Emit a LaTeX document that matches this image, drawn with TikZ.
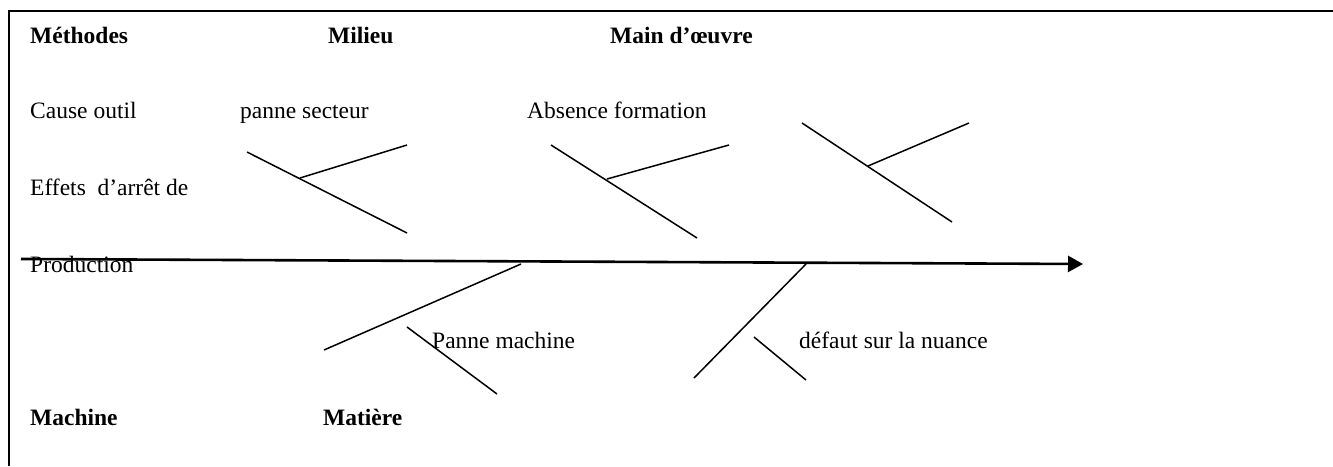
\documentclass[tikz,border=0pt]{standalone}
\usepackage{fontspec}
\setmainfont{Liberation Serif}
\usetikzlibrary{arrows.meta}
\begin{document}
\begin{tikzpicture}[x=1pt,y=-1pt,
  lbl/.style={anchor=base west,inner sep=0pt,font=\fontsize{23.5}{28}\selectfont},
  cat/.style={lbl,font=\fontsize{23.5}{28}\selectfont\bfseries},
  bone/.style={line width=1.5pt,black},
  spine/.style={line width=2.6pt,black,-{Triangle[length=15pt,width=16pt]}},
  frame/.style={line width=2pt,black}]
\useasboundingbox (0,0) rectangle (1333,466);
\draw[frame] (9,466) -- (9,10.5) -- (1333,10.5);
% category labels
\node[cat] (methodes) at (30,43) {Méthodes};
\node[cat] (milieu) at (328,43) {Milieu};
\node[cat] (main) at (610,43) {Main d’œuvre};
\node[cat] (machine) at (30,425) {Machine};
\node[cat] (matiere) at (323,425) {Matière};
% cause labels
\node[lbl] (outil) at (30,118) {Cause outil};
\node[lbl] (secteur) at (240,118) {panne secteur};
\node[lbl] (formation) at (527,118) {Absence formation};
\node[lbl] (effets) at (30,195) {Effets\ \ d’arrêt de};
\node[lbl] (production) at (30,272) {Production};
\node[lbl] (pmachine) at (432,348) {Panne machine};
\node[lbl] (nuance) at (799,348) {défaut sur la nuance};
% spine
\coordinate (s0) at (21,259);
\coordinate (s1) at (1083,264);
\draw[spine] (s0) -- (s1);
% upper bones
\coordinate (a1) at (247,152); \coordinate (a2) at (407,233);
\coordinate (a3) at (300,178); \coordinate (a4) at (407,145);
\draw[bone] (a1) -- (a2); \draw[bone] (a3) -- (a4);
\coordinate (b1) at (551,145); \coordinate (b2) at (697,238);
\coordinate (b3) at (607,179); \coordinate (b4) at (729,145);
\draw[bone] (b1) -- (b2); \draw[bone] (b3) -- (b4);
\coordinate (c1) at (802,123); \coordinate (c2) at (952,222);
\coordinate (c3) at (868,166); \coordinate (c4) at (969,123);
\draw[bone] (c1) -- (c2); \draw[bone] (c3) -- (c4);
% lower bones
\coordinate (d1) at (521,264); \coordinate (d2) at (324,350);
\coordinate (d3) at (407,327); \coordinate (d4) at (497,394);
\draw[bone] (d1) -- (d2); \draw[bone] (d3) -- (d4);
\coordinate (e1) at (806,264); \coordinate (e2) at (694,378);
\coordinate (e3) at (754,337); \coordinate (e4) at (806,380);
\draw[bone] (e1) -- (e2); \draw[bone] (e3) -- (e4);
\end{tikzpicture}
\end{document}
